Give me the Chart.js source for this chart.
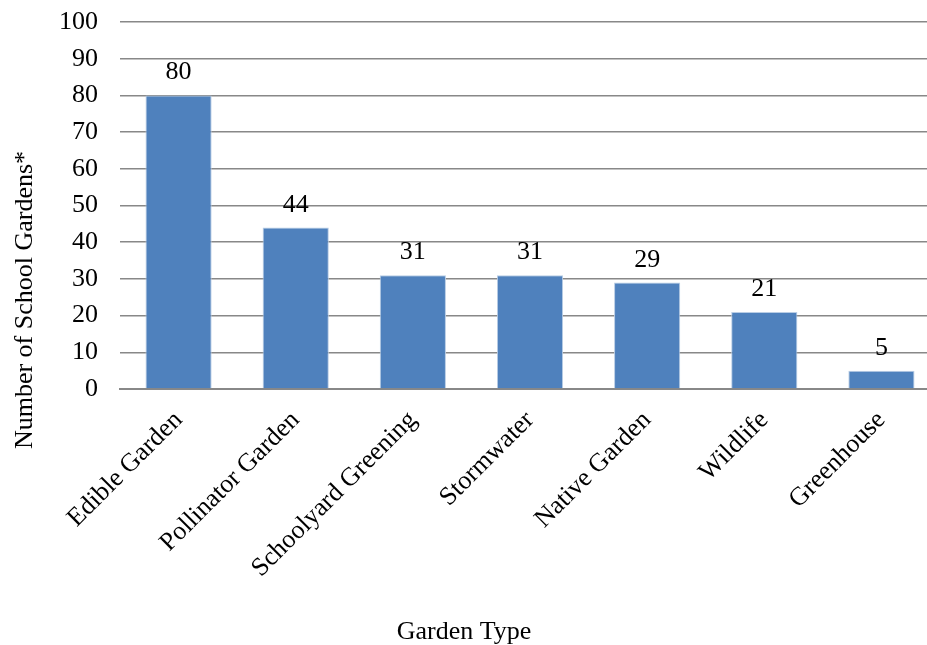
<!DOCTYPE html>
<html>
<head>
<meta charset="utf-8">
<script src="https://cdn.jsdelivr.net/npm/chart.js@4/dist/chart.umd.min.js"></script>
<style>
  html, body { margin: 0; padding: 0; background: #fff; overflow: hidden; }
  #wrap { width: 940px; height: 645px; }
</style>
</head>
<body>
<div id="wrap"><canvas id="chart"></canvas></div>
<script>
// データ
const gardenTypes = ['Edible Garden', 'Pollinator Garden', 'Schoolyard Greening', 'Stormwater', 'Native Garden', 'Wildlife', 'Greenhouse'];
const gardenCounts = [80, 44, 31, 31, 29, 21, 5];
const yTicks = [0, 10, 20, 30, 40, 50, 60, 70, 80, 90, 100];

const FONT = '"Liberation Serif", "Times New Roman", serif';

// 棒の上に値を描画 + 軸タイトル
const labelPlugin = {
  id: 'labelPlugin',
  afterDatasetsDraw(chart) {
    const ctx = chart.ctx;
    const meta = chart.getDatasetMeta(0);
    ctx.save();
    ctx.font = '26px ' + FONT;
    ctx.fillStyle = '#000';
    ctx.textAlign = 'center';
    ctx.textBaseline = 'alphabetic';
    meta.data.forEach((bar, i) => {
      ctx.fillText(String(gardenCounts[i]), bar.x, bar.y - 16);
    });
    // 軸タイトル
    ctx.fillText('Garden Type', 464, 639);
    ctx.translate(32, 300);
    ctx.rotate(-Math.PI / 2);
    ctx.fillText('Number of School Gardens*', 0, 0);
    ctx.restore();
  }
};

const ctx = document.getElementById('chart').getContext('2d');
new Chart(ctx, {
  type: 'bar',
  data: {
    labels: gardenTypes,
    datasets: [{
      data: gardenCounts,
      backgroundColor: '#4f81bd',
      borderColor: '#b9cde5',
      borderWidth: 1,
      categoryPercentage: 1.0,
      barPercentage: 0.565
    }]
  },
  options: {
    responsive: true,
    maintainAspectRatio: false,
    animation: false,
    layout: { padding: { top: 22, right: 0, left: 0, bottom: 0 } },
    plugins: {
      legend: { display: false },
      tooltip: { enabled: false }
    },
    scales: {
      x: {
        grid: { display: false },
        border: { color: '#888', width: 2 },
        ticks: {
          color: '#000',
          font: { family: FONT, size: 26 },
          maxRotation: 45,
          minRotation: 45,
          padding: 8
        },
        afterFit(scale) { scale.height = 256; }
      },
      y: {
        min: 0,
        max: 100,
        afterBuildTicks(scale) { scale.ticks = yTicks.map(v => ({ value: v })); },
        grid: { color: '#888', lineWidth: 1.5, drawTicks: false },
        border: { display: false },
        ticks: {
          color: '#000',
          font: { family: FONT, size: 26, lineHeight: 0.5 },
          padding: 22
        },
        afterFit(scale) {
          scale.width = 120;
          scale.paddingTop = 0;
          scale.paddingBottom = 0;
        }
      }
    }
  },
  plugins: [labelPlugin]
});
</script>
</body>
</html>
